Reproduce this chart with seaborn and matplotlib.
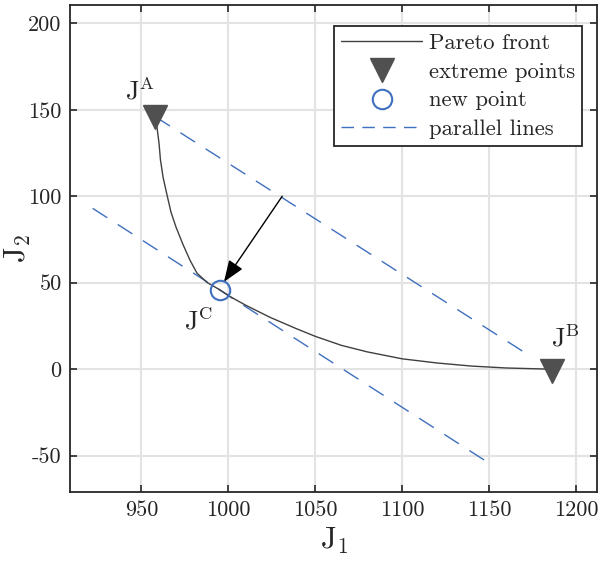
import numpy as np
import pandas as pd
import seaborn as sns
import matplotlib
matplotlib.use("Agg")
from matplotlib import pyplot as plt
from matplotlib.lines import Line2D

# values
pareto_j1 = [958, 959, 960.2, 961, 962.5, 964.6, 967, 970, 974, 978, 982, 988,
             995, 1001, 1010, 1024, 1039, 1050, 1065, 1080, 1100, 1120, 1140,
             1160, 1186]
pareto_j2 = [146, 140, 130.4, 121, 111, 101.5, 91, 82, 72, 63, 55.5, 50,
             46, 42, 37, 30, 23.5, 19, 13.8, 10, 6, 3.6, 1.8, 0.7, 0]
extreme_j1 = [958, 1186]
extreme_j2 = [146, -1]
new_j1 = [995]
new_j2 = [46]
upper_j1 = [958, 1173]
upper_j2 = [146, 8]
lower_j1 = [922, 1151]
lower_j2 = [93, -55]
arrow_from = (1031, 100)
arrow_to = (997.5, 50.5)
point_labels = ["A", "B", "C"]
label_j1 = [949, 1194, 983]
label_j2 = [161, 18, 28]
xticks = [950, 1000, 1050, 1100, 1150, 1200]
yticks = [-50, 0, 50, 100, 150, 200]

sns.set_theme(style="whitegrid")
plt.rcParams['font.family'] = ['cmr10', 'DejaVu Serif']
plt.rcParams['mathtext.fontset'] = 'cm'
plt.rcParams['axes.unicode_minus'] = False

blue = '#3f6fbf'
grey = '#505050'

fig = plt.figure(figsize=(6.0, 5.66), dpi=100)
ax = fig.add_axes([0.1167, 0.1307, 0.8783, 0.8603])

front = pd.DataFrame({"J1": pareto_j1, "J2": pareto_j2})
sns.lineplot(data=front, x="J1", y="J2", sort=False, color='#404040',
             linewidth=1.0, ax=ax, zorder=3)
ax.plot(upper_j1, upper_j2, color=blue, lw=1.0, dashes=(12.5, 9), zorder=2)
ax.plot(lower_j1, lower_j2, color=blue, lw=1.0, dashes=(12.5, 9), zorder=2)
ax.annotate("", xy=arrow_to, xytext=arrow_from,
            arrowprops=dict(arrowstyle="-|>,head_length=1.1,head_width=0.42",
                            color='black', lw=1.0, shrinkA=0, shrinkB=0),
            zorder=4)
ax.plot(extreme_j1, extreme_j2, linestyle='none', marker='v', markersize=17,
        color=grey, zorder=5)
ax.plot(new_j1, new_j2, linestyle='none', marker='o', markersize=14,
        markerfacecolor='none', markeredgecolor=blue, markeredgewidth=1.5,
        zorder=5)

for lab, x, y in zip(point_labels, label_j1, label_j2):
    ax.text(x, y, r'$\mathrm{J}^{\mathrm{%s}}$' % lab, fontsize=19,
            ha='center', va='center')

ax.set_xlim(909, 1212)
ax.set_ylim(-71, 210.5)
ax.set_xticks(xticks)
ax.set_yticks(yticks)
ax.set_yticklabels([str(v) for v in yticks])
ax.tick_params(axis='both', which='both', direction='in', length=5, width=1.2,
               color='#262626', labelsize=16, top=True, right=True,
               bottom=True, left=True, labelcolor='#262626', pad=6)
ax.grid(True, color='#e3e3e3', linewidth=1.5)
for s in ax.spines.values():
    s.set_color('#262626')
    s.set_linewidth(1.3)
    s.set_visible(True)
ax.set_xlabel(r'$\mathrm{J}_1$', fontsize=22, labelpad=4)
ax.set_ylabel(r'$\mathrm{J}_2$', fontsize=22, va='center')
ax.yaxis.set_label_coords(-0.099, 0.5)

handles = [
    Line2D([], [], color='#404040', lw=1.0),
    Line2D([], [], linestyle='none', marker='v', markersize=17, color=grey),
    Line2D([], [], linestyle='none', marker='o', markersize=14,
           markerfacecolor='none', markeredgecolor=blue, markeredgewidth=1.5),
    Line2D([], [], color=blue, lw=1.0, dashes=(9, 6)),
]
names = ["Pareto front", "extreme points", "new point", "parallel lines"]
leg = ax.legend(handles, names, loc='upper right',
                bbox_to_anchor=(0.9715, 0.957), fontsize=16.3,
                handlelength=3.6, handletextpad=0.3, labelspacing=0.4,
                borderpad=0.3, borderaxespad=0.0, fancybox=False,
                framealpha=1, edgecolor='#262626')
leg.get_frame().set_linewidth(1.3)

fig.savefig("out.png", dpi=100)
